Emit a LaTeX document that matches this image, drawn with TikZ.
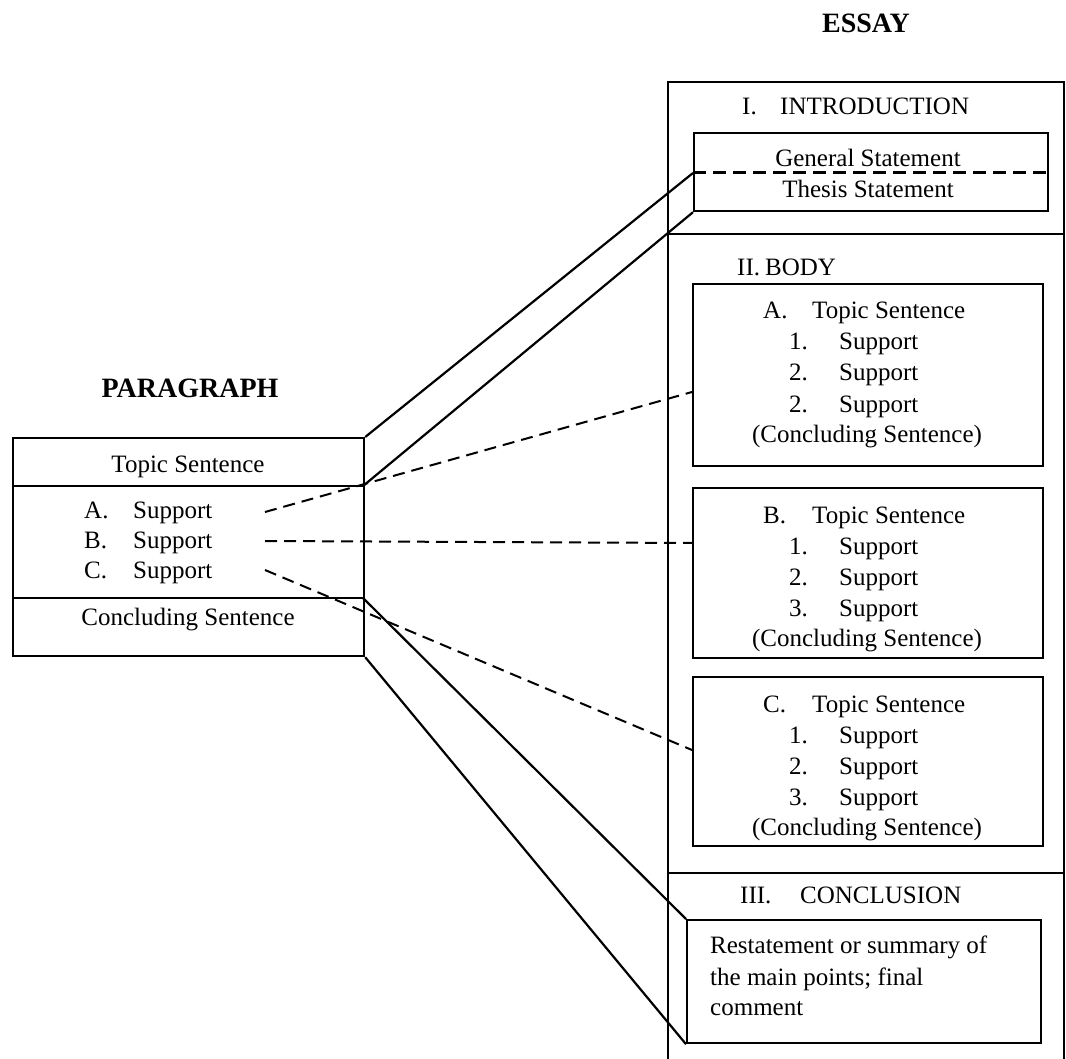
\documentclass[tikz,border=0pt]{standalone}
\usepackage{fontspec}
\setmainfont{Liberation Serif}
\begin{document}
\begin{tikzpicture}[x=1pt,y=-1pt,
  box/.style={draw,line width=2.2pt,inner sep=0pt,anchor=north west},
  rule/.style={line width=2.2pt},
  conn/.style={line width=2.2pt},
  dconn/.style={line width=2pt,dash pattern=on 12pt off 7pt},
  txt/.style={inner sep=0pt,anchor=base west,font=\fontsize{25}{30}\selectfont},
  ctxt/.style={inner sep=0pt,anchor=base,font=\fontsize{25}{30}\selectfont},
  ttl/.style={inner sep=0pt,anchor=base,font=\fontsize{28}{32}\selectfont\bfseries}]
\useasboundingbox (0,0) rectangle (1066,1059);
\fill[white] (0,0) rectangle (1066,1059);

% ---------- ESSAY ----------
\node[ttl] (essayT) at (866,33) {ESSAY};
\draw[rule] (668,1062) -- (668,82) -- (1064,82) -- (1064,1062);
\draw[rule] (668,234) -- (1064,234);
\draw[rule] (668,873) -- (1064,873);

% Introduction
\node[txt] (i1) at (742,115) {I.};
\node[txt] (i2) at (780,115) {INTRODUCTION};
\node[box,minimum width=354pt,minimum height=78pt] (intro) at (693,132) {};
\coordinate (introL) at (693,173);
\coordinate (introR) at (1047,173);
\draw[line width=3pt,dash pattern=on 13pt off 7pt] (introL) -- (introR);
\node[ctxt] (gs) at (868,167) {General Statement};
\node[ctxt] (ts) at (868,198) {Thesis Statement};

% Body
\node[txt] (b1) at (737,276) {II.};
\node[txt] (b2) at (765,276) {BODY};

\foreach \nm/\L/\top/\bot/\n in {boxA/A/283/465/2,boxB/B/487/657/3,boxC/C/676/845/3}{
  \pgfmathsetmacro{\hh}{\bot-\top}
  \node[box,minimum width=350pt,minimum height=\hh pt] (\nm) at (692,\top) {};
  \node[txt] (\nm-l) at (763,\top+36) {\L.};
  \node[txt] (\nm-t) at (812,\top+36) {Topic Sentence};
  \node[txt] (\nm-n1) at (789,\top+67) {1.};
  \node[txt] (\nm-s1) at (839,\top+67) {Support};
  \node[txt] (\nm-n2) at (789,\top+98) {2.};
  \node[txt] (\nm-s2) at (839,\top+98) {Support};
  \node[txt] (\nm-n3) at (789,\top+129) {\n.};
  \node[txt] (\nm-s3) at (839,\top+129) {Support};
  \node[ctxt] (\nm-c) at (867,\top+159) {(Concluding Sentence)};
}

% Conclusion
\node[txt] (c1) at (740,903) {III.};
\node[txt] (c2) at (800,903) {CONCLUSION};
\node[box,minimum width=354pt,minimum height=123pt] (concl) at (686,919) {};
\node[txt] (cl1) at (710,953) {Restatement or summary of};
\node[txt] (cl2) at (710,985) {the main points; final};
\node[txt] (cl3) at (710,1015) {comment};

% ---------- PARAGRAPH ----------
\node[ttl] (paraT) at (190,398) {PARAGRAPH};
\node[box,minimum width=351pt,minimum height=218pt] (para) at (12,437) {};
\coordinate (pd1L) at (12,486);
\coordinate (pd1R) at (363,486);
\coordinate (pd2L) at (12,598);
\coordinate (pd2R) at (363,598);
\draw[rule] (pd1L) -- (pd1R);
\draw[rule] (pd2L) -- (pd2R);
\node[ctxt] (pts) at (188,472) {Topic Sentence};
\node[txt] (pa) at (84,518) {A.};
\node[txt] (pas) at (133,518) {Support};
\node[txt] (pb) at (84,548) {B.};
\node[txt] (pbs) at (133,548) {Support};
\node[txt] (pc) at (84,578) {C.};
\node[txt] (pcs) at (133,578) {Support};
\node[ctxt] (pcon) at (188,625) {Concluding Sentence};

% ---------- connectors ----------
\coordinate (dA0) at (265,512);
\coordinate (dB0) at (265,541);
\coordinate (dC0) at (265,570);
\coordinate (dA1) at (692,392);
\coordinate (dB1) at (692,543);
\coordinate (dC1) at (692,750);
\draw[conn] (para.north east) -- (introL);
\draw[conn] (pd1R) -- (intro.south west);
\draw[conn] (pd2R) -- (concl.north west);
\draw[conn] (para.south east) -- (concl.south west);
\draw[dconn] (dA0) -- (dA1);
\draw[dconn] (dB0) -- (dB1);
\draw[dconn] (dC0) -- (dC1);
\end{tikzpicture}
\end{document}
